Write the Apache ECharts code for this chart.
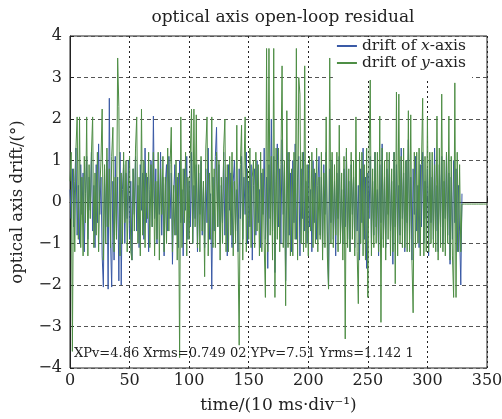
<!DOCTYPE html>
<html>
<head>
<meta charset="utf-8">
<script src="https://cdn.jsdelivr.net/npm/echarts@6/dist/echarts.min.js"></script>
<style>html,body{margin:0;padding:0;background:#fff}#c{width:502px;height:419px}</style>
</head>
<body>
<div id="c"></div>
<script>
var xTicks = [0, 50, 100, 150, 200, 250, 300, 350];
var yTicks = [-4, -3, -2, -1, 0, 1, 2, 3, 4];
var seriesNames = ['drift of x-axis', 'drift of y-axis'];
var statsText = 'XPv=4.86 Xrms=0.749 02 YPv=7.51 Yrms=1.142 1';

var driftX = [
 0.3,-0.4,0.8,-0.6,0.5,1.3,-0.8,0.4,-1.0,0.9,
 -0.3,0.7,-1.2,0.2,1.1,-0.9,0.6,-0.2,1.2,-0.7,
 0.4,-1.1,0.9,-0.5,1.4,-0.3,0.6,-1.3,-2.05,0.8,
 -0.6,1.0,-2.1,2.5,-0.9,-2.05,0.5,-1.4,1.1,-0.8,
 0.6,-1.9,1.2,-2.0,0.3,0.9,-1.0,0.7,-0.4,1.0,
 -0.9,0.5,-1.4,0.8,-0.3,1.1,-0.7,0.4,-1.1,0.9,
 -0.2,0.7,-0.9,1.3,-0.5,0.6,-1.2,0.3,1.0,-0.6,
 2.07,-0.4,0.8,-1.0,0.5,-0.3,1.2,-0.8,0.6,-1.3,
 0.4,0.9,-0.7,1.1,-0.4,0.7,-1.5,0.2,0.9,-0.8,
 0.6,-1.1,1.0,-0.5,0.3,-1.3,0.8,-0.2,1.1,-0.9,
 0.5,-0.6,1.2,-1.0,0.4,-0.4,0.9,-1.2,0.7,-0.3,
 1.0,-0.8,0.5,-1.1,0.8,-0.5,1.3,-0.9,0.2,-2.1,
 0.6,-0.7,1.1,1.8,-0.6,0.9,-1.0,0.4,-0.5,1.2,
 -0.8,0.6,-1.3,0.9,-0.2,0.7,-1.1,0.5,1.0,-0.7,
 0.3,-1.2,0.8,-0.4,1.1,-0.9,0.6,-0.3,1.2,-1.0,
 0.5,-0.6,0.9,-1.4,0.4,0.8,-0.8,1.0,-0.5,0.3,
 -1.1,0.7,-0.3,1.3,-0.9,0.6,-1.6,0.9,-0.4,2.0,
 -0.7,1.1,-1.7,0.5,1.4,-0.6,0.8,-1.0,1.5,-0.3,
 0.9,-1.9,0.4,1.2,-0.8,0.7,-1.2,1.0,-0.5,1.4,
 -0.9,0.6,1.1,-1.3,0.8,-0.4,1.2,-0.7,0.5,-1.0,
 0.9,-0.6,0.3,-1.2,1.0,-0.5,0.7,-0.9,0.4,1.1,
 -0.8,0.6,-1.1,0.9,-0.3,1.2,-0.7,-2.07,0.8,-0.5,
 1.0,-0.9,0.5,-1.3,0.7,-0.4,1.1,-0.8,0.3,-1.0,
 0.8,-0.6,1.2,-0.9,0.5,-1.2,0.9,-0.3,0.6,-1.1,
 1.0,-0.7,0.4,-1.4,0.8,-0.5,1.3,-0.9,0.6,-1.6,
 0.7,-0.4,1.1,-1.0,0.5,-0.8,1.2,-0.6,0.3,-1.3,
 0.9,-0.5,1.4,-0.9,0.6,-1.1,0.8,-0.3,1.0,-0.7,
 0.5,-1.5,1.2,-0.6,0.9,-1.0,0.4,-0.8,1.3,-0.4,
 0.7,-1.2,1.0,-0.5,1.5,-0.9,0.6,-1.4,0.8,-0.3,
 1.1,-0.7,0.4,-1.1,0.9,-0.6,1.2,-1.0,0.5,-0.4,
 0.8,-1.3,1.0,-0.5,0.6,-0.9,1.3,-0.7,0.4,-1.2,
 0.9,-0.6,1.1,-1.0,0.5,-0.4,1.2,-0.8,0.7,-1.5,
 0.6,-0.9,1.0,-0.5,0.8,-1.2,0.4,-0.7,-2.0,0.2
];

var driftY = [
 0.5,1.2,-3.6,0.8,-1.2,1.3,2.05,-0.9,2.05,-1.1,
 0.6,-1.3,1.1,-0.5,2.05,-1.3,0.9,-0.4,1.2,2.05,
 -1.1,0.7,-0.8,1.2,-1.2,0.3,1.0,2.24,-1.4,0.9,
 -1.0,1.3,-0.6,0.8,-1.1,1.1,1.8,-1.2,0.6,-0.9,
 3.47,2.3,-1.3,0.7,-1.0,1.2,-0.5,1.0,-1.2,0.4,
 1.1,-1.2,-1.4,0.8,-0.7,1.3,2.05,-1.0,0.6,-1.3,
 2.24,-0.8,1.0,-1.1,0.7,-0.4,1.2,-1.1,0.9,-0.6,
 1.2,-1.3,0.5,-0.9,1.2,-1.4,0.8,-0.3,1.1,-1.2,
 0.6,-1.0,1.3,-0.7,0.9,1.8,-1.2,0.4,-0.8,1.0,
 -1.4,0.7,-3.75,2.05,-1.1,0.8,-0.5,1.2,-1.3,0.6,
 -0.9,1.2,2.24,-1.0,2.24,-0.6,2.1,-1.1,0.9,-1.2,
 1.1,-0.7,0.5,-1.8,1.3,2.05,-1.3,0.7,-0.9,2.05,
 -1.1,0.8,-1.1,1.2,-0.6,1.0,-1.4,0.6,-1.0,1.3,
 2.0,-1.2,0.9,-1.2,1.1,-0.8,1.2,-1.3,0.5,-1.0,
 1.85,-1.1,-3.45,0.9,1.85,-1.4,0.7,2.05,-1.2,0.8,
 -0.9,1.3,-1.1,0.6,1.0,-1.1,1.2,-0.7,0.9,-1.3,
 1.2,-1.2,0.8,-1.0,-2.3,3.7,-1.2,3.7,-0.8,1.1,
 -1.4,3.7,-2.3,1.3,-0.9,1.3,-1.2,0.9,3.28,-1.1,
 1.0,-2.5,2.2,-1.1,1.2,-1.3,0.8,-1.3,1.2,-0.9,
 3.7,-1.4,3.0,2.6,-1.0,1.2,-1.2,3.28,-1.1,0.9,
 -1.3,1.1,-0.7,1.2,-1.1,0.8,-1.0,1.3,-1.2,0.6,
 -0.9,1.2,-1.4,0.7,-1.1,2.05,-1.3,-2.1,3.47,-1.0,
 1.2,-1.1,0.9,-0.8,1.2,-1.2,1.85,-1.0,0.7,-1.4,
 1.1,-3.3,1.3,-1.1,0.8,-1.2,1.2,-0.9,1.0,-1.3,
 2.05,-1.2,-2.45,1.2,-1.0,1.2,-1.3,0.9,-1.4,1.3,
 -2.3,1.1,2.94,-1.3,0.8,-1.1,1.2,-1.0,1.2,-1.2,
 2.07,-2.9,1.3,-1.1,1.0,-1.4,1.2,-0.9,1.2,-1.3,
 0.8,-1.2,1.2,-1.97,2.65,-1.3,2.6,-1.0,1.1,-1.1,
 1.3,-1.1,1.0,-1.2,2.2,-1.2,2.1,-1.4,-2.67,1.2,
 -1.1,1.2,-1.0,1.3,-1.3,0.9,2.5,-1.3,1.1,-1.2,
 2.05,-1.2,1.2,-1.0,1.2,-1.1,0.9,-1.2,2.07,-1.4,
 1.3,-1.1,2.6,-1.2,1.0,-1.3,1.2,-1.0,2.07,-1.4,
 1.1,-1.3,-2.3,2.87,-2.3,1.2,-1.2,0.9,-1.2,-0.05,
 -0.05,-0.05,-0.05,-0.05,-0.05,-0.05,-0.05,-0.05,-0.05,-0.05,
 -0.05,-0.05,-0.05,-0.05,-0.05,-0.05,-0.05,-0.05,-0.05,-0.05,
 -0.05
];

function toPairs(arr){ return arr.map(function(v,i){ return [i, v]; }); }
var FONT = '"DejaVu Serif","Liberation Serif",serif';
var chart = echarts.init(document.getElementById('c'));
chart.setOption({
  animation: false,
  backgroundColor: '#fff',
  title: {
    text: 'optical axis open-loop residual',
    left: 278, top: 4, textAlign: 'center',
    textStyle: { fontFamily: FONT, fontSize: 17, fontWeight: 'normal', color: '#222' }
  },
  grid: { left: 70, right: 15, top: 36, bottom: 51, show: true, borderColor: '#222', borderWidth: 1,
    backgroundColor: 'transparent', outerBoundsMode: 'none', containLabel: false },
  legend: {
    orient: 'vertical', right: 30, top: 37, itemWidth: 20, itemHeight: 2, itemGap: 1,
    backgroundColor: '#fff', padding: [1, 6, 8, 4],
    icon: 'rect',
    data: seriesNames,
    formatter: function(n){ return n === seriesNames[0] ? '{a|drift of }{i|x}{a|-axis}' : '{a|drift of }{i|y}{a|-axis}'; },
    textStyle: { fontFamily: FONT, fontSize: 15.5, color: '#222',
      rich: { a: { fontFamily: FONT, fontSize: 15.5, color: '#222' }, i: { fontFamily: FONT, fontSize: 15.5, fontStyle: 'italic', color: '#222' } } }
  },
  xAxis: {
    type: 'value', min: 0, max: 350, interval: 50,
    name: 'time/(10 ms·div\u207B\u00B9)', nameLocation: 'middle', nameGap: 29,
    nameTextStyle: { fontFamily: FONT, fontSize: 17, color: '#222' },
    axisLine: { lineStyle: { color: '#222' } },
    axisTick: { inside: true, length: 4, lineStyle: { color: '#222' } },
    axisLabel: { fontFamily: FONT, fontSize: 16, color: '#222', margin: 5,
      formatter: function(v){ return xTicks.indexOf(v) >= 0 ? String(v) : ''; } },
    splitLine: { show: true, lineStyle: { color: '#222', type: [2, 3], width: 1 } }
  },
  yAxis: {
    type: 'value', min: -4, max: 4, interval: 1,
    name: 'optical axis drift/(°)', nameLocation: 'middle', nameGap: 44,
    nameTextStyle: { fontFamily: FONT, fontSize: 16.5, color: '#222' },
    axisLine: { lineStyle: { color: '#222' } },
    axisTick: { inside: true, length: 4, lineStyle: { color: '#222' } },
    axisLabel: { fontFamily: FONT, fontSize: 16, color: '#222', margin: 8,
      formatter: function(v){ return yTicks.indexOf(v) >= 0 ? String(v).replace('-', '\u2212') : ''; } },
    splitLine: { show: true, lineStyle: { color: '#555', type: [4, 3], width: 1 } }
  },
  graphic: [{
    type: 'text', left: 74, top: 347, z: 100,
    style: { text: statsText, font: '13px ' + FONT, fill: '#222' }
  }],
  series: [
    { name: seriesNames[0], type: 'line', data: toPairs(driftX), showSymbol: false, symbol: 'none',
      lineStyle: { color: '#3a5aa6', width: 1 }, itemStyle: { color: '#3a5aa6' } },
    { name: seriesNames[1], type: 'line', data: toPairs(driftY), showSymbol: false, symbol: 'none',
      lineStyle: { color: '#4e8e45', width: 1 }, itemStyle: { color: '#4e8e45' } }
  ]
});
</script>
</body>
</html>
